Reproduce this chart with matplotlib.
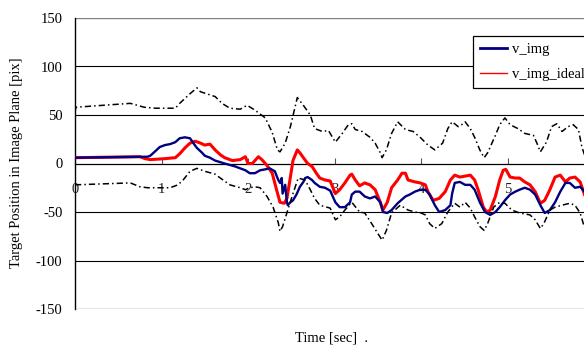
import matplotlib

matplotlib.use("Agg")
import matplotlib.pyplot as plt
from matplotlib.lines import Line2D

# time stamps [sec] and traces, values in [pix]
t_img = [0.0, 0.84, 0.87, 0.92, 0.98, 1.04, 1.10, 1.16, 1.21, 1.27, 1.33, 1.36, 1.41, 1.47,
         1.50, 1.56, 1.62, 1.73, 1.85, 1.97, 2.02, 2.08, 2.14, 2.20, 2.25, 2.31, 2.35, 2.37,
         2.39, 2.40, 2.43, 2.45, 2.46, 2.49, 2.52, 2.56, 2.60, 2.64, 2.66, 2.69, 2.74, 2.77,
         2.83, 2.89, 2.95, 3.01, 3.06, 3.12, 3.18, 3.20, 3.24, 3.29, 3.35, 3.41, 3.47, 3.53,
         3.56, 3.61, 3.66, 3.73, 3.82, 3.87, 3.93, 3.99, 4.05, 4.10, 4.16, 4.21, 4.28, 4.34,
         4.36, 4.39, 4.45, 4.51, 4.57, 4.62, 4.68, 4.74, 4.80, 4.86, 4.91, 4.97, 5.03, 5.09,
         5.14, 5.20, 5.26, 5.32, 5.38, 5.43, 5.49, 5.55, 5.61, 5.67, 5.72, 5.78, 5.84, 5.89]
v_img = [6, 7, 8, 12, 17, 19, 20, 22, 26, 27, 26, 22, 16, 11,
         8, 6, 3, 0, -3, -7, -10, -10, -7, -6, -5, -8, -17, -20,
         -15, -31, -22, -40, -43, -40, -38, -32, -24, -19, -15, -14, -17, -20,
         -24, -25, -28, -40, -45, -45, -40, -32, -29, -29, -34, -36, -34, -40,
         -50, -51, -48, -41, -34, -32, -29, -27, -27, -32, -43, -50, -48, -43,
         -31, -20, -19, -22, -22, -27, -40, -50, -53, -50, -45, -38, -32, -29,
         -27, -25, -27, -32, -43, -51, -48, -40, -29, -20, -20, -25, -24, -29]

t_ideal = [0.0, 0.75, 0.81, 0.87, 1.04, 1.16, 1.21, 1.27, 1.33, 1.39, 1.45, 1.50, 1.56, 1.62,
           1.68, 1.73, 1.82, 1.91, 1.97, 2.00, 2.05, 2.12, 2.16, 2.22, 2.28, 2.33, 2.37, 2.42,
           2.45, 2.49, 2.52, 2.57, 2.60, 2.64, 2.69, 2.74, 2.79, 2.83, 2.89, 2.95, 3.01, 3.06,
           3.12, 3.18, 3.20, 3.24, 3.29, 3.35, 3.41, 3.47, 3.53, 3.56, 3.61, 3.66, 3.73, 3.78,
           3.82, 3.85, 3.93, 3.99, 4.05, 4.08, 4.14, 4.21, 4.28, 4.34, 4.39, 4.45, 4.51, 4.57,
           4.62, 4.66, 4.72, 4.76, 4.80, 4.86, 4.91, 4.95, 4.98, 5.03, 5.09, 5.14, 5.20, 5.26,
           5.32, 5.38, 5.43, 5.49, 5.55, 5.61, 5.67, 5.72, 5.78, 5.84, 5.89]
v_img_ideal = [6, 7, 5, 4, 5, 6, 10, 16, 21, 23, 21, 19, 20, 14,
               9, 6, 3, 4, 7, 0, 0, 7, 4, -2, -10, -27, -40, -41,
               -36, -14, 3, 14, 11, 6, 0, -3, -10, -15, -17, -18, -31, -27,
               -20, -12, -11, -17, -23, -20, -22, -27, -40, -48, -40, -25, -17, -10,
               -10, -17, -19, -20, -22, -29, -38, -36, -29, -17, -12, -14, -13, -12,
               -17, -27, -45, -50, -48, -34, -17, -7, -6, -14, -15, -15, -19, -22,
               -29, -41, -38, -27, -14, -12, -19, -15, -14, -19, -32]

t_upper = [0.0, 0.01, 0.64, 0.80, 0.93, 1.10, 1.16, 1.21, 1.33, 1.41, 1.45, 1.62, 1.70,
           1.79, 1.91, 1.99, 2.08, 2.20, 2.28, 2.34, 2.37, 2.43, 2.49, 2.57, 2.64, 2.72,
           2.77, 2.86, 2.93, 3.01, 3.09, 3.16, 3.20, 3.24, 3.32, 3.41, 3.47, 3.53, 3.55,
           3.60, 3.66, 3.73, 3.82, 3.91, 3.99, 4.08, 4.16, 4.25, 4.31, 4.36, 4.43, 4.47,
           4.51, 4.57, 4.62, 4.68, 4.73, 4.77, 4.86, 4.91, 4.97, 5.03, 5.12, 5.20, 5.30,
           5.34, 5.38, 5.45, 5.51, 5.57, 5.63, 5.70, 5.76, 5.82, 5.86, 5.89]
v_upper = [53, 58, 62, 58, 57, 57, 57, 62, 72, 78, 74, 69, 62,
           57, 56, 60, 55, 47, 32, 14, 12, 21, 38, 68, 60, 50,
           36, 33, 34, 22, 31, 40, 41, 35, 33, 27, 21, 11, 6,
           14, 31, 43, 35, 33, 27, 19, 14, 21, 36, 43, 38, 40,
           43, 36, 27, 14, 6, 11, 29, 40, 47, 40, 36, 31, 29,
           21, 12, 22, 38, 41, 33, 38, 40, 35, 17, 9]

t_lower = [0.0, 0.64, 0.75, 0.84, 1.00, 1.10, 1.19, 1.25, 1.33, 1.41, 1.50, 1.62, 1.68,
           1.79, 1.91, 1.97, 2.02, 2.08, 2.14, 2.22, 2.29, 2.35, 2.37, 2.40, 2.46, 2.52,
           2.58, 2.66, 2.72, 2.77, 2.83, 2.95, 3.01, 3.06, 3.12, 3.20, 3.29, 3.35, 3.43,
           3.50, 3.55, 3.60, 3.66, 3.76, 3.85, 3.93, 4.00, 4.05, 4.10, 4.16, 4.24, 4.31,
           4.39, 4.45, 4.51, 4.57, 4.62, 4.68, 4.73, 4.77, 4.84, 4.91, 4.97, 5.05, 5.14,
           5.26, 5.32, 5.38, 5.42, 5.49, 5.55, 5.63, 5.72, 5.78, 5.84, 5.89]
v_lower = [-22, -20, -24, -25, -25, -25, -22, -17, -8, -5, -8, -11, -15,
           -22, -25, -27, -25, -24, -25, -34, -45, -61, -70, -65, -48, -31,
           -15, -17, -27, -36, -43, -46, -58, -55, -48, -40, -50, -51, -62,
           -72, -79, -69, -51, -43, -48, -50, -51, -53, -62, -67, -62, -50,
           -41, -45, -40, -46, -55, -65, -69, -62, -45, -40, -41, -48, -51,
           -53, -58, -67, -62, -48, -45, -43, -41, -43, -51, -66]

y_ticks = [-150, -100, -50, 0, 50, 100, 150]
x_ticks = [0, 1, 2, 3, 4, 5]

plt.rcParams["font.family"] = ["Liberation Serif", "DejaVu Serif"]
plt.rcParams["lines.scale_dashes"] = False
plt.rcParams["axes.unicode_minus"] = False

NAVY = "#000080"
RED = "#ff0000"

fig = plt.figure(figsize=(5.84, 3.47), dpi=100)
ax = fig.add_axes([75 / 584, 1 - 309 / 347, 1 - 75 / 584, (309 - 18) / 347])
ax.set_xlim(0, (584 - 75) / 86.5)
ax.set_ylim(-150, 150)

for y in y_ticks:
    if y == 0:
        continue
    edge = abs(y) == 150
    ax.axhline(y, color="#808080" if edge else "black", lw=1.0 if edge else 0.8, zorder=1)

dashdot = (0, (4.5, 2.2, 1.1, 2.2))
ax.plot(t_upper, v_upper, color="black", lw=1.1, linestyle=dashdot, zorder=4)
ax.plot(t_lower, v_lower, color="black", lw=1.1, linestyle=dashdot, zorder=4)
ax.plot(t_ideal, v_img_ideal, color=RED, lw=2.2, zorder=3)
ax.plot(t_img, v_img, color=NAVY, lw=1.7, zorder=3.5)

for s in ("top", "right"):
    ax.spines[s].set_visible(False)
ax.spines["left"].set_linewidth(1.0)
ax.spines["bottom"].set_position(("data", 0))
ax.spines["bottom"].set_linewidth(0.9)

ax.set_yticks(y_ticks)
ax.set_xticks(x_ticks)
ax.tick_params(axis="y", length=0, pad=9, labelsize=10.5)
ax.tick_params(axis="x", direction="in", length=4, width=0.8, color="#555555",
               pad=14, labelsize=10.5, labelcolor="#222222")

fig.text(17 / 584, 1 - 163 / 347, "Target Position in Image Plane [pix]",
         rotation=90, ha="center", va="center", fontsize=10.5)
fig.text(332 / 584, 1 - 338 / 347, "Time [sec]  .", ha="center", va="center", fontsize=10.5)

handles = [Line2D([], [], color=NAVY, lw=2.0), Line2D([], [], color=RED, lw=1.0)]
leg = fig.legend(handles, ["v_img", "v_img_ideal"], loc="upper left",
                 bbox_to_anchor=(473 / 584, 1 - 36 / 347), borderaxespad=0,
                 fancybox=False, framealpha=1, edgecolor="black", fontsize=10.5,
                 handlelength=1.8, labelspacing=0.75, borderpad=0.5, handletextpad=0.4)
leg.get_frame().set_linewidth(0.9)

fig.savefig("out.png", dpi=100)
